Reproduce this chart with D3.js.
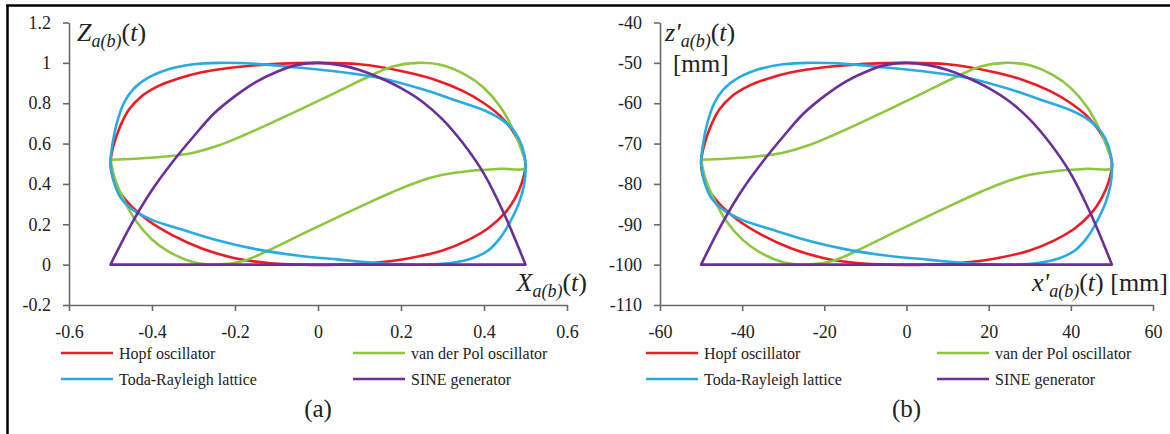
<!DOCTYPE html>
<html>
<head>
<meta charset="utf-8">
<script src="https://cdn.jsdelivr.net/npm/d3@7"></script>
<style>
  body { margin: 0; background: #fff; }
  svg text { font-family: "Liberation Serif", "Times New Roman", serif !important; }
</style>
</head>
<body>
<svg id="chart" width="1170" height="434"></svg>
<script>
// series names and colours (legend order = drawing order)
var names = ["Hopf oscillator", "van der Pol oscillator", "Toda-Rayleigh lattice", "SINE generator"];
var colors = ["#ec1c24", "#8dc63f", "#29aae1", "#6a2f99"];

// panel (a): normalised X, Z
var xTicksA = [-0.6, -0.4, -0.2, 0, 0.2, 0.4, 0.6];
var yTicksA = [-0.2, 0, 0.2, 0.4, 0.6, 0.8, 1, 1.2];

var hopfA = [[-0.5,0.5],[-0.494,0.58],[-0.477,0.684],[-0.455,0.77],[-0.425,0.835],[-0.385,0.885],[-0.34,0.92],
  [-0.28,0.953],[-0.2,0.978],[-0.1,0.995],[0,1.0],[0.1,0.993],[0.2,0.96],[0.28,0.918],[0.35,0.86],[0.40,0.80],
  [0.44,0.735],[0.47,0.66],[0.49,0.58],[0.5,0.5],[0.492,0.41],[0.475,0.33],[0.45,0.255],[0.41,0.18],[0.36,0.12],
  [0.30,0.07],[0.22,0.032],[0.13,0.008],[0.05,0.0],[-0.04,0.0],[-0.12,0.008],[-0.2,0.032],[-0.28,0.08],
  [-0.35,0.145],[-0.41,0.22],[-0.45,0.29],[-0.478,0.36],[-0.494,0.43]];

var vdpA = [[-0.5,0.52],[-0.44,0.525],[-0.36,0.537],[-0.30,0.555],[-0.24,0.59],[-0.18,0.64],[-0.12,0.695],
  [-0.04,0.772],[0.04,0.85],[0.12,0.93],[0.18,0.982],[0.24,1.0],[0.30,0.988],[0.36,0.935],[0.40,0.875],
  [0.44,0.78],[0.47,0.67],[0.49,0.57],[0.5,0.48],[0.44,0.475],[0.36,0.463],[0.30,0.445],[0.24,0.41],
  [0.18,0.36],[0.12,0.305],[0.04,0.228],[-0.04,0.15],[-0.12,0.07],[-0.18,0.018],[-0.24,0.0],[-0.30,0.012],
  [-0.36,0.065],[-0.40,0.125],[-0.44,0.22],[-0.47,0.33],[-0.49,0.43],[-0.5,0.52]];

var todaA = [[-0.5,0.5],[-0.495,0.60],[-0.485,0.70],[-0.468,0.80],[-0.445,0.87],[-0.41,0.925],[-0.36,0.968],
  [-0.30,0.993],[-0.24,1.0],[-0.15,0.995],[-0.05,0.977],[0.05,0.956],[0.15,0.925],[0.25,0.87],[0.33,0.815],
  [0.40,0.765],[0.445,0.715],[0.475,0.655],[0.492,0.585],[0.5,0.5],[0.497,0.40],[0.485,0.31],[0.465,0.22],
  [0.44,0.135],[0.41,0.07],[0.37,0.03],[0.32,0.008],[0.25,0.0],[0.16,0.005],[0.05,0.025],[-0.05,0.045],
  [-0.15,0.077],[-0.25,0.125],[-0.33,0.175],[-0.40,0.222],[-0.445,0.27],[-0.475,0.33],[-0.492,0.41]];

var sineA = [[-0.5,0],[-0.45,0.2],[-0.4,0.37],[-0.35,0.51],[-0.3,0.635],[-0.25,0.75],[-0.2,0.835],[-0.15,0.905],
  [-0.1,0.955],[-0.05,0.99],[0,1],[0.05,0.99],[0.1,0.965],[0.15,0.925],[0.2,0.875],[0.25,0.81],[0.3,0.72],
  [0.35,0.6],[0.4,0.45],[0.45,0.245],[0.5,0]];

// panel (b): x', z' in mm
var xTicksB = [-60, -40, -20, 0, 20, 40, 60];
var yTicksB = [-110, -100, -90, -80, -70, -60, -50, -40];

var hopfB = [[-50,-75],[-49.4,-71],[-47.7,-65.8],[-45.5,-61.5],[-42.5,-58.25],[-38.5,-55.75],[-34,-54],
  [-28,-52.35],[-20,-51.1],[-10,-50.25],[0,-50],[10,-50.35],[20,-52],[28,-54.1],[35,-57],[40,-60],[44,-63.25],
  [47,-67],[49,-71],[50,-75],[49.2,-79.5],[47.5,-83.5],[45,-87.25],[41,-91],[36,-94],[30,-96.5],[22,-98.4],
  [13,-99.6],[5,-100],[-4,-100],[-12,-99.6],[-20,-98.4],[-28,-96],[-35,-92.75],[-41,-89],[-45,-85.5],
  [-47.8,-82],[-49.4,-78.5]];

var vdpB = [[-50,-74],[-44,-73.75],[-36,-73.15],[-30,-72.25],[-24,-70.5],[-18,-68],[-12,-65.25],[-4,-61.4],
  [4,-57.5],[12,-53.5],[18,-50.9],[24,-50],[30,-50.6],[36,-53.25],[40,-56.25],[44,-61],[47,-66.5],[49,-71.5],
  [50,-76],[44,-76.25],[36,-76.85],[30,-77.75],[24,-79.5],[18,-82],[12,-84.75],[4,-88.6],[-4,-92.5],
  [-12,-96.5],[-18,-99.1],[-24,-100],[-30,-99.4],[-36,-96.75],[-40,-93.75],[-44,-89],[-47,-83.5],
  [-49,-78.5],[-50,-74]];

var todaB = [[-50,-75],[-49.5,-70],[-48.5,-65],[-46.8,-60],[-44.5,-56.5],[-41,-53.75],[-36,-51.6],[-30,-50.35],
  [-24,-50],[-15,-50.25],[-5,-51.15],[5,-52.2],[15,-53.75],[25,-56.5],[33,-59.25],[40,-61.75],[44.5,-64.25],
  [47.5,-67.25],[49.2,-70.75],[50,-75],[49.7,-80],[48.5,-84.5],[46.5,-89],[44,-93.25],[41,-96.5],[37,-98.5],
  [32,-99.6],[25,-100],[16,-99.75],[5,-98.75],[-5,-97.75],[-15,-96.15],[-25,-93.75],[-33,-91.25],
  [-40,-88.9],[-44.5,-86.5],[-47.5,-83.5],[-49.2,-79.5]];

var sineB = [[-50,-100],[-45,-90],[-40,-81.5],[-35,-74.5],[-30,-68.25],[-25,-62.5],[-20,-58.25],[-15,-54.75],
  [-10,-52.25],[-5,-50.5],[0,-50],[5,-50.5],[10,-51.75],[15,-53.75],[20,-56.25],[25,-59.5],[30,-64],
  [35,-70],[40,-77.5],[45,-87.75],[50,-100]];

var svg = d3.select('#chart');

// frame: top and left rules
svg.append('line').attr('x1', 6).attr('x2', 1170).attr('y1', 5.5).attr('y2', 5.5)
  .attr('stroke', '#000').attr('stroke-width', 2.5);
svg.append('line').attr('x1', 7.5).attr('x2', 7.5).attr('y1', 5).attr('y2', 434)
  .attr('stroke', '#000').attr('stroke-width', 2.5);

function drawPanel(p) {
  var x = d3.scaleLinear().domain(p.xDomain).range([p.left, p.right]);
  var y = d3.scaleLinear().domain(p.yDomain).range([305, 22.5]);
  var g = svg.append('g');

  var fmt = function(d) { return String(+d.toFixed(1)); };

  var yAxis = g.append('g')
    .attr('transform', 'translate(' + p.left + ',0)')
    .call(d3.axisLeft(y).tickValues(p.yTicks).tickSize(6).tickSizeOuter(0).tickPadding(12).tickFormat(fmt));
  var xAxis = g.append('g')
    .attr('transform', 'translate(0,' + y(p.yDomain[0]) + ')')
    .call(d3.axisBottom(x).tickValues(p.xTicks).tickSize(6).tickSizeOuter(0).tickPadding(14).tickFormat(fmt));

  [yAxis, xAxis].forEach(function(a) {
    a.attr('font-family', null);
    a.select('.domain').attr('stroke', '#6a6a6a').attr('stroke-width', 1.6);
    a.selectAll('.tick line').attr('stroke', '#6a6a6a').attr('stroke-width', 1.6);
    a.selectAll('.tick text').attr('fill', '#222').style('font-size', '18px');
  });

  var lineOpen = d3.line().x(function(d) { return x(d[0]); }).y(function(d) { return y(d[1]); })
    .curve(d3.curveCatmullRom.alpha(0.5));
  var lineClosed = d3.line().x(function(d) { return x(d[0]); }).y(function(d) { return y(d[1]); })
    .curve(d3.curveCatmullRomClosed.alpha(0.5));

  var plot = g.append('g').attr('fill', 'none').attr('stroke-width', 2.6)
    .attr('stroke-linejoin', 'round').attr('stroke-linecap', 'round');
  plot.append('path').attr('d', lineClosed(p.series[0])).attr('stroke', colors[0]);
  plot.append('path').attr('d', lineOpen(p.series[1])).attr('stroke', colors[1]);
  plot.append('path').attr('d', lineClosed(p.series[2])).attr('stroke', colors[2]);
  plot.append('path').attr('d', lineOpen(p.series[3]) + 'Z').attr('stroke', colors[3]);

  // axis titles
  var t1 = g.append('text').attr('x', p.yTitleX).attr('y', 41).attr('fill', '#222').style('font-size', '26px');
  t1.append('tspan').style('font-style', 'italic').text(p.yVar);
  t1.append('tspan').style('font-style', 'italic').style('font-size', '18px').attr('dy', 6).text('a(b)');
  t1.append('tspan').attr('dy', -6).text('(');
  t1.append('tspan').style('font-style', 'italic').text('t');
  t1.append('tspan').text(')');
  if (p.yUnit) {
    g.append('text').attr('x', p.yTitleX + 8).attr('y', 72).attr('fill', '#222')
      .style('font-size', '25px').text(p.yUnit);
  }

  var t2 = g.append('text').attr('x', p.xTitleX).attr('y', 291).attr('text-anchor', 'end')
    .attr('fill', '#222').style('font-size', '26px');
  t2.append('tspan').style('font-style', 'italic').text(p.xVar);
  t2.append('tspan').style('font-style', 'italic').style('font-size', '18px').attr('dy', 6).text('a(b)');
  t2.append('tspan').attr('dy', -6).text('(');
  t2.append('tspan').style('font-style', 'italic').text('t');
  t2.append('tspan').text(')' + (p.xUnit ? ' ' + p.xUnit : ''));

  // legend
  var leg = g.append('g');
  names.forEach(function(n, i) {
    var col = i % 2, row = Math.floor(i / 2);
    var lx = p.legX[col], ly = 353 + row * 26;
    leg.append('line').attr('x1', lx).attr('x2', lx + 52).attr('y1', ly).attr('y2', ly)
      .attr('stroke', colors[i]).attr('stroke-width', 2.6);
    leg.append('text').attr('x', lx + 58).attr('y', ly).attr('dy', '0.35em')
      .attr('fill', '#222').style('font-size', '16px').text(n);
  });

  g.append('text').attr('x', (p.left + p.right) / 2).attr('y', 417).attr('text-anchor', 'middle')
    .attr('fill', '#222').style('font-size', '25px').text(p.caption);
}

drawPanel({
  xDomain: [-0.6, 0.6], yDomain: [-0.2, 1.2], left: 69, right: 567,
  xTicks: xTicksA, yTicks: yTicksA,
  series: [hopfA, vdpA, todaA, sineA],
  yVar: 'Z', xVar: 'X', yTitleX: 77, xTitleX: 587,
  legX: [61, 353], caption: '(a)'
});

drawPanel({
  xDomain: [-60, 60], yDomain: [-110, -40], left: 660, right: 1153,
  xTicks: xTicksB, yTicks: yTicksB,
  series: [hopfB, vdpB, todaB, sineB],
  yVar: "z'", xVar: "x'", yTitleX: 665, xTitleX: 1168, yUnit: '[mm]', xUnit: '[mm]',
  legX: [646, 937], caption: '(b)'
});
</script>
</body>
</html>
